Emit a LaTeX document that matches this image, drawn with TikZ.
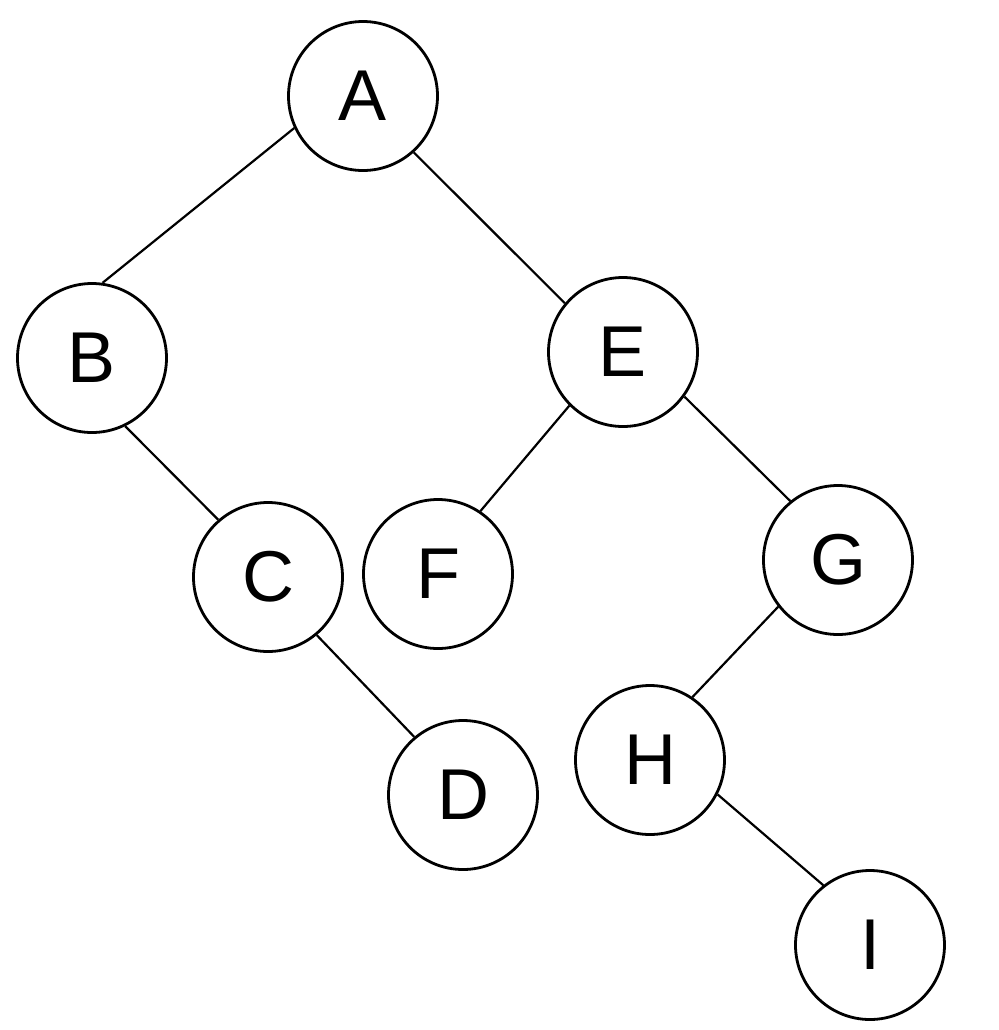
\documentclass[tikz,border=0pt]{standalone}
\usepackage{fontspec}
\setmainfont{Liberation Sans}
\begin{document}
\begin{tikzpicture}[x=0.5pt,y=-0.5pt,
  tnode/.style={circle,draw=black,line width=1.4pt,minimum size=74.5pt,inner sep=0pt,font=\fontsize{36}{40}\selectfont},
  tedge/.style={line width=1.1pt}]
\useasboundingbox (0,0) rectangle (998,1030);
\node[tnode] (A) at (363,96) {A};
\node[tnode] (B) at (92,358) {B};
\node[tnode] (E) at (623,352) {E};
\node[tnode] (C) at (268,577) {C};
\node[tnode] (F) at (438,574) {F};
\node[tnode] (G) at (838,560) {G};
\node[tnode] (D) at (463,795) {D};
\node[tnode] (H) at (650,760) {H};
\node[tnode] (I) at (870,945) {I};
\draw[tedge] (A.205) -- (B.82);
\draw[tedge] (A.-48) -- (E.140);
\draw[tedge] (B.-64) -- (C.131);
\draw[tedge] (E.-135) -- (F.56);
\draw[tedge] (E.-36) -- (G.129);
\draw[tedge] (C.-50) -- (D.130);
\draw[tedge] (G.-142) -- (H.56);
\draw[tedge] (H.-27) -- (I.128);
\end{tikzpicture}
\end{document}
